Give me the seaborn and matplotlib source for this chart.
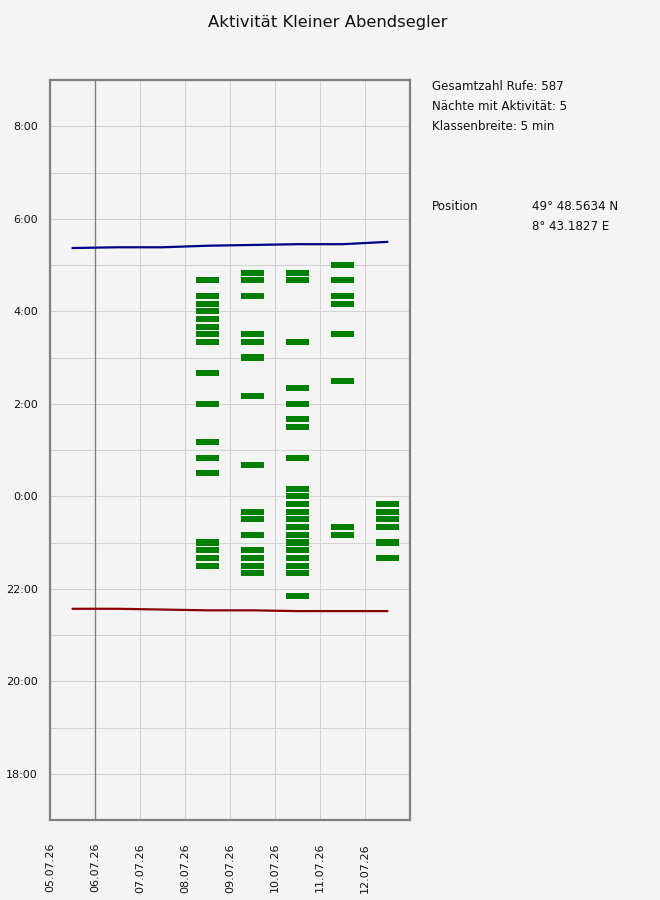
import matplotlib
matplotlib.use("Agg")
import matplotlib.pyplot as plt
import seaborn as sns
import pandas as pd
import numpy as np

# ---------------- data ----------------
dates = ["05.07.26", "06.07.26", "07.07.26", "08.07.26",
         "09.07.26", "10.07.26", "11.07.26", "12.07.26"]

sunrise = ["5:22", "5:23", "5:23", "5:25", "5:26", "5:27", "5:27", "5:30"]
sunset = ["21:34", "21:34", "21:33", "21:32", "21:32", "21:31", "21:31", "21:31"]

night_08 = ["4:40", "4:20", "4:10", "4:00", "3:50", "3:40", "3:30", "3:20",
            "2:40", "2:00", "1:10", "0:50", "0:30",
            "23:00", "22:50", "22:40", "22:30"]
night_09 = ["4:50", "4:40", "4:20", "3:30", "3:20", "3:00", "2:10", "0:40",
            "23:40", "23:30", "23:10", "22:50", "22:40", "22:30", "22:20"]
night_10 = ["4:50", "4:40", "3:20", "2:20", "2:00", "1:40", "1:30", "0:50",
            "0:10", "0:00", "23:50", "23:40", "23:30", "23:20", "23:10",
            "23:00", "22:50", "22:40", "22:30", "22:20", "21:50"]
night_11 = ["5:00", "4:40", "4:20", "4:10", "3:30", "2:30", "23:20", "23:10"]
night_12 = ["23:50", "23:40", "23:30", "23:20", "23:00", "22:40"]

active_nights = ["08.07.26", "09.07.26", "10.07.26", "11.07.26", "12.07.26"]
night_times = [night_08, night_09, night_10, night_11, night_12]

y_tick_labels = ["18:00", "20:00", "22:00", "0:00", "2:00", "4:00", "6:00", "8:00"]

title = "Aktivität Kleiner Abendsegler"
info_lines = ["Gesamtzahl Rufe: 587", "Nächte mit Aktivität: 5", "Klassenbreite: 5 min"]
pos_label = "Position"
pos_values = ["49° 48.5634 N", "8° 43.1827 E"]


def hours_since_noon(s):
    h, m = s.split(":")
    v = int(h) + int(m) / 60.0
    return (v - 12) % 24


# ---------------- styling ----------------
BG = "#f4f4f4"
GRID = "#d2d2d2"
SPINE = "#808080"

sns.set_theme(style="whitegrid", rc={
    "figure.facecolor": BG,
    "axes.facecolor": BG,
    "grid.color": GRID,
    "grid.linewidth": 0.8,
    "axes.edgecolor": SPINE,
    "axes.linewidth": 1.6,
})
plt.rcParams["font.family"] = ["DejaVu Sans"]

fig = plt.figure(figsize=(6.6, 9.0), dpi=100)
ax = fig.add_axes([50 / 660, 1 - 820 / 900, 360 / 660, 740 / 900])

# bars
rows = []
for nd, times in zip(active_nights, night_times):
    xi = dates.index(nd) + 0.5
    for t in times:
        rows.append({"x": xi, "y": hours_since_noon(t)})
bars = pd.DataFrame(rows)
bar_h = 0.13
ax.bar(bars["x"], np.full(len(bars), bar_h), bottom=bars["y"] - bar_h / 2,
       width=0.51, color="#008000", linewidth=0, zorder=3)

# sun lines
sun = pd.DataFrame({
    "x": [i + 0.5 for i in range(len(dates))] * 2,
    "y": [hours_since_noon(s) for s in sunrise] + [hours_since_noon(s) for s in sunset],
    "kind": ["Sonnenaufgang"] * len(dates) + ["Sonnenuntergang"] * len(dates),
})
sns.lineplot(data=sun, x="x", y="y", hue="kind",
             palette={"Sonnenaufgang": "#00008b", "Sonnenuntergang": "#8b0000"},
             linewidth=1.6, legend=False, ax=ax, zorder=4)

ax.axvline(1, color=SPINE, linewidth=1.0, zorder=2)

# axes
ax.set_xlim(0, 8)
ax.set_ylim(5, 21)
ax.set_xticks(range(len(dates)))
ax.set_xticklabels(dates, rotation=90, fontsize=8, color="#111111")
ax.set_yticks([6 + 2 * i for i in range(len(y_tick_labels))])
ax.set_yticklabels(y_tick_labels, fontsize=8, color="#111111")
ax.set_yticks(range(5, 22), minor=True)
ax.grid(True, which="both", axis="y", color=GRID, linewidth=0.8, zorder=0)
ax.grid(True, which="major", axis="x", color=GRID, linewidth=0.8, zorder=0)
ax.tick_params(axis="both", which="both", length=0)
ax.tick_params(axis="y", pad=8.6)
ax.tick_params(axis="x", pad=16.5)
ax.set_xlabel("")
ax.set_ylabel("")
ax.set_axisbelow(True)
for sp in ax.spines.values():
    sp.set_visible(True)
    sp.set_color(SPINE)
    sp.set_linewidth(1.6)

# text
fig.text(328 / 660, 1 - 22 / 900, title, ha="center", va="center", fontsize=11.8, color="#111111")
for i, line in enumerate(info_lines):
    fig.text(432 / 660, 1 - (87 + 20 * i) / 900, line, ha="left", va="center", fontsize=8.6, color="#111111")
fig.text(432 / 660, 1 - 207 / 900, pos_label, ha="left", va="center", fontsize=8.6, color="#111111")
for i, v in enumerate(pos_values):
    fig.text(532 / 660, 1 - (207 + 20 * i) / 900, v, ha="left", va="center", fontsize=8.6, color="#111111")

fig.savefig("out.png", dpi=100, facecolor=BG)
